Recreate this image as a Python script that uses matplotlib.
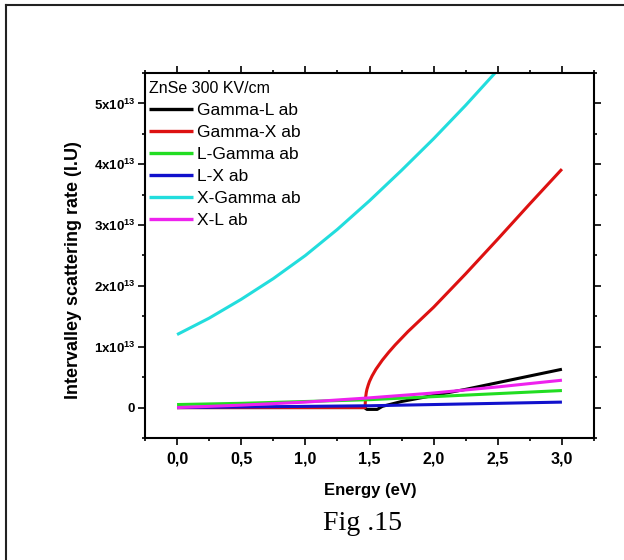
import matplotlib
matplotlib.use("Agg")
import matplotlib.pyplot as plt
from matplotlib.ticker import MultipleLocator, FuncFormatter
from matplotlib.lines import Line2D

plt.rcParams['font.family'] = ['Liberation Sans', 'DejaVu Sans']
plt.rcParams['mathtext.fontset'] = 'custom'
plt.rcParams['mathtext.rm'] = 'Liberation Sans:bold'
plt.rcParams['mathtext.bf'] = 'Liberation Sans:bold'

SCALE = 1e13  # rates below are in units of 1e13

# Gamma-L absorption
energy_gl = [0.0, 1.0, 1.46, 1.48, 1.56, 1.60, 1.75, 2.0, 2.25, 2.5, 2.75, 3.0]
gamma_l = [0.0, 0.0, 0.0, -0.03, -0.03, 0.02, 0.10, 0.20, 0.30, 0.41, 0.52, 0.63]

# Gamma-X absorption
energy_gx = [0.0, 1.0, 1.466, 1.467, 1.47, 1.475, 1.48, 1.49, 1.50, 1.52, 1.55,
             1.60, 1.65, 1.70, 1.75, 1.80, 1.90, 2.0, 2.25, 2.5, 2.75, 3.0]
gamma_x = [0.0, 0.0, 0.0, 0.08, 0.17, 0.25, 0.30, 0.37, 0.43, 0.52, 0.63,
           0.78, 0.91, 1.03, 1.14, 1.25, 1.45, 1.65, 2.20, 2.77, 3.35, 3.92]

# L-Gamma, L-X and X-L absorption share one energy grid
energy_half = [0.0, 0.5, 1.0, 1.5, 2.0, 2.5, 3.0]
l_gamma = [0.05, 0.07, 0.10, 0.13, 0.18, 0.23, 0.28]
l_x = [0.0, 0.01, 0.02, 0.03, 0.05, 0.07, 0.09]
x_l = [0.0, 0.04, 0.09, 0.16, 0.24, 0.34, 0.45]

# X-Gamma absorption
energy_xg = [0.0, 0.25, 0.5, 0.75, 1.0, 1.25, 1.5, 1.75, 2.0, 2.25, 2.5, 2.75, 3.0]
x_gamma = [1.20, 1.47, 1.78, 2.12, 2.50, 2.93, 3.40, 3.90, 4.42, 4.97, 5.55, 6.20, 6.88]

series = [
    ("Gamma-L ab", energy_gl, gamma_l, "#000000"),
    ("Gamma-X ab", energy_gx, gamma_x, "#dd1111"),
    ("L-Gamma ab", energy_half, l_gamma, "#22dd22"),
    ("L-X ab", energy_half, l_x, "#1111cc"),
    ("X-Gamma ab", energy_xg, x_gamma, "#22dddd"),
    ("X-L ab", energy_half, x_l, "#ee22ee"),
]

W, H = 624, 560
fig = plt.figure(figsize=(W / 100, H / 100), dpi=100)
fig.patch.set_facecolor("white")

# page frame (left and top edges)
fig.add_artist(Line2D([5.5 / W, 5.5 / W], [0, 1 - 4.5 / H], color="#222222", lw=1.5))
fig.add_artist(Line2D([5.5 / W, 1], [1 - 4.5 / H, 1 - 4.5 / H], color="#222222", lw=1.5))

ax = fig.add_axes([145 / W, 1 - 438 / H, 449 / W, 365 / H])

for label, xs, ys, color in series:
    ax.plot(xs, [v * SCALE for v in ys], color=color, lw=2.2, label=label,
            solid_capstyle="butt", solid_joinstyle="round")

ax.set_xlim(-0.25, 3.25)
ax.set_ylim(-0.5 * SCALE, 5.5 * SCALE)

ax.xaxis.set_major_locator(MultipleLocator(0.5))
ax.xaxis.set_minor_locator(MultipleLocator(0.25))
ax.yaxis.set_major_locator(MultipleLocator(1 * SCALE))
ax.yaxis.set_minor_locator(MultipleLocator(0.5 * SCALE))

ax.xaxis.set_major_formatter(FuncFormatter(lambda v, p: f"{v:.1f}".replace(".", ",")))


def yfmt(v, p):
    n = int(round(v / SCALE))
    if n == 0:
        return "0"
    return f"{n}x10$^{{13}}$"


ax.yaxis.set_major_formatter(FuncFormatter(yfmt))

for s in ax.spines.values():
    s.set_linewidth(1.5)

ax.tick_params(which="both", direction="out", top=True, right=True,
               labeltop=False, labelright=False, width=1.2)
ax.tick_params(which="major", length=5)
ax.tick_params(which="minor", length=2.5)
ax.tick_params(axis="x", which="major", labelsize=11.5, pad=5)
ax.tick_params(axis="y", which="major", labelsize=9.5, pad=2)
for t in ax.get_xticklabels() + ax.get_yticklabels():
    t.set_fontweight("bold")

fig.text(74 / W, 1 - 270 / H, "Intervalley scattering rate (I.U)", rotation=90,
         ha="center", va="center", fontsize=13, fontweight="bold")
fig.text(370 / W, 1 - 490 / H, "Energy (eV)", ha="center", va="center",
         fontsize=12, fontweight="bold")
fig.text(362 / W, 1 - 524 / H, "Fig .15", ha="center", va="center",
         fontsize=20, family=["Liberation Serif", "DejaVu Serif"])

leg = ax.legend(loc="upper left", bbox_to_anchor=(-0.009, 1.0), frameon=False,
                fontsize=12.5, title="ZnSe 300 KV/cm", title_fontsize=11.5,
                handlelength=2.5, handletextpad=0.25, labelspacing=0.39,
                borderaxespad=0.0, borderpad=0.47, alignment="left")
for line in leg.get_lines():
    line.set_linewidth(2.4)

fig.savefig("out.png", dpi=100)
